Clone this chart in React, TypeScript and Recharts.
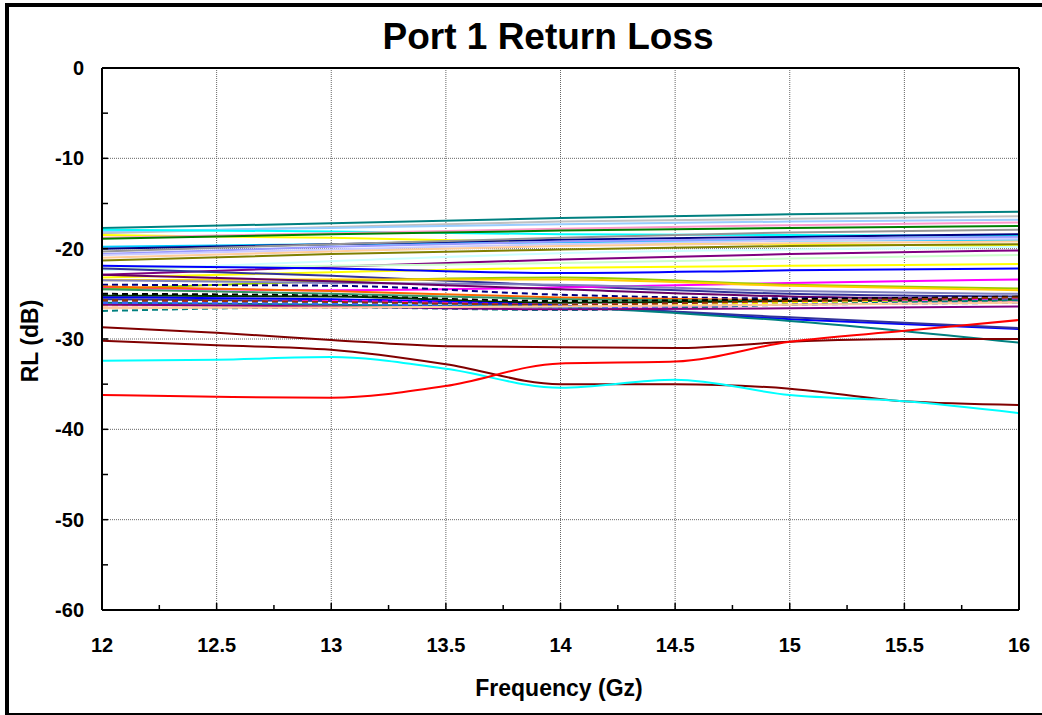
import { CartesianGrid, Line, LineChart, ReferenceLine, XAxis, YAxis } from "recharts"

const FONT = "'Liberation Sans', Arial, sans-serif"

// frequency points (GHz); the dense group was read at whole GHz only
const FREQ = [12, 12.5, 13, 13.5, 14, 14.5, 15, 15.5, 16]
const X_TICKS = [12, 12.25, 12.5, 12.75, 13, 13.25, 13.5, 13.75, 14, 14.25, 14.5, 14.75, 15, 15.25, 15.5, 15.75, 16]
const Y_TICKS = [0, -5, -10, -15, -20, -25, -30, -35, -40, -45, -50, -55, -60]
const GRID_X = [12.5, 13, 13.5, 14, 14.5, 15, 15.5]
const GRID_Y = [-10, -20, -30, -40, -50]

// dense group, values at 12, 13, 14, 15, 16 GHz
const teal1 = [-17.7, -17.2, -16.6, -16.2, -15.9]
const silver1 = [-18.3, -17.6, -17.0, -16.7, -16.4]
const paleBlue1 = [-18.1, -17.7, -17.3, -17.0, -16.8]
const cyan1 = [-17.9, -18.1, -18.4, -18.5, -18.6]
const yellow1 = [-18.5, -18.8, -19.3, -19.5, -19.7]
const rose1 = [-18.8, -18.3, -17.8, -17.4, -17.1]
const green1 = [-18.9, -18.4, -18.0, -17.7, -17.5]
const skyBlue1 = [-19.8, -19.5, -19.3, -19.1, -19.0]
const navy1 = [-20.0, -19.5, -19.0, -18.7, -18.4]
const gray1 = [-20.3, -19.5, -18.8, -18.2, -17.9]
const periwinkle1 = [-20.6, -19.8, -19.2, -18.9, -18.7]
const lavender1 = [-20.7, -20.1, -19.5, -19.1, -18.9]
const tan1 = [-21.0, -20.3, -19.7, -19.4, -19.2]
const olive1 = [-21.3, -20.6, -20.1, -19.7, -19.5]
const turquoise1 = [-22.4, -21.4, -20.5, -20.1, -19.8]
const purple1 = [-22.9, -22.0, -21.2, -20.6, -20.2]
const lightGreen1 = [-22.2, -21.9, -21.6, -21.1, -20.7]
const yellow2 = [-23.2, -22.6, -22.1, -21.9, -21.7]
const blue1 = [-21.9, -22.2, -22.7, -22.4, -22.2]
const indigo1 = [-22.2, -23.0, -24.1, -25.0, -25.3]
const magenta1 = [-24.3, -24.6, -24.3, -23.8, -23.4]
const lime1 = [-24.5, -23.6, -23.2, -24.0, -24.4]
const gold1 = [-23.5, -23.4, -23.4, -24.1, -24.6]
const blueGray1 = [-23.5, -23.8, -24.0, -24.7, -25.0]
const plum1 = [-22.9, -23.6, -24.5, -25.3, -25.6]
const navyDash = [-24.0, -24.1, -25.1, -25.5, -25.4]
const orange1 = [-24.2, -24.7, -25.4, -25.7, -25.8]
const seaGreen1 = [-24.5, -25.0, -25.6, -25.8, -25.7]
const blackDash = [-25.0, -25.2, -25.8, -25.6, -25.3]
const darkGreen1 = [-25.2, -25.3, -26.0, -25.8, -25.6]
const blue2 = [-25.4, -25.6, -26.3, -27.8, -28.9]
const indigo2 = [-25.6, -25.8, -26.4, -27.6, -28.8]
const plumDash = [-25.8, -25.9, -26.4, -26.0, -25.6]
const skyBlueDash = [-26.0, -25.9, -26.3, -25.9, -25.5]
const magentaDash = [-26.1, -25.8, -26.2, -25.9, -25.6]
const yellowDash = [-26.3, -26.3, -26.4, -26.0, -25.8]
const rose2 = [-26.5, -26.5, -26.6, -26.2, -25.9]
const tealDash = [-26.9, -26.5, -26.8, -26.2, -25.7]
const teal2 = [-26.0, -26.2, -26.5, -28.0, -30.4]
const purple2 = [-26.2, -26.4, -26.7, -26.6, -26.4]
const blueDash = [-26.0, -26.1, -26.5, -26.2, -26.0]
const brownDash = [-25.7, -25.9, -26.2, -25.8, -25.4]
const tan2 = [-26.6, -26.5, -26.4, -26.2, -26.0]

// separated curves, values at every 0.5 GHz
const darkRedA = [-28.7, -29.3, -30.1, -30.8, -30.9, -31.0, -30.3, -30.0, -30.0]
const darkRedB = [-30.2, -30.7, -31.2, -32.8, -35.0, -35.0, -35.5, -36.9, -37.3]
const cyanLow = [-32.4, -32.3, -32.0, -33.3, -35.4, -34.5, -36.2, -36.9, -38.2]
const redLow = [-36.2, -36.4, -36.5, -35.2, -32.7, -32.5, -30.3, -29.1, -27.9]

interface Series {
  key: string
  color: string
  values: number[]
  dashed?: boolean
}

const WHOLE_GHZ: Series[] = [
  { key: "teal1", color: "#008080", values: teal1 },
  { key: "silver1", color: "#c0c0c0", values: silver1 },
  { key: "paleBlue1", color: "#99ccff", values: paleBlue1 },
  { key: "cyan1", color: "#00ffff", values: cyan1 },
  { key: "yellow1", color: "#ffff00", values: yellow1 },
  { key: "rose1", color: "#ff99cc", values: rose1 },
  { key: "green1", color: "#008000", values: green1 },
  { key: "skyBlue1", color: "#00ccff", values: skyBlue1 },
  { key: "navy1", color: "#000080", values: navy1 },
  { key: "gray1", color: "#969696", values: gray1 },
  { key: "periwinkle1", color: "#9999ff", values: periwinkle1 },
  { key: "lavender1", color: "#ccccff", values: lavender1 },
  { key: "tan1", color: "#ffcc99", values: tan1 },
  { key: "olive1", color: "#808000", values: olive1 },
  { key: "turquoise1", color: "#ccffff", values: turquoise1 },
  { key: "purple1", color: "#800080", values: purple1 },
  { key: "lightGreen1", color: "#ccffcc", values: lightGreen1 },
  { key: "yellow2", color: "#ffff00", values: yellow2 },
  { key: "blue1", color: "#0000ff", values: blue1 },
  { key: "indigo1", color: "#333399", values: indigo1 },
  { key: "magenta1", color: "#ff00ff", values: magenta1 },
  { key: "lime1", color: "#99cc00", values: lime1 },
  { key: "gold1", color: "#ffcc00", values: gold1 },
  { key: "blueGray1", color: "#8080c0", values: blueGray1 },
  { key: "plum1", color: "#660066", values: plum1 },
  { key: "navyDash", color: "#000080", values: navyDash, dashed: true },
  { key: "orange1", color: "#ff6600", values: orange1 },
  { key: "seaGreen1", color: "#339966", values: seaGreen1 },
  { key: "blackDash", color: "#000000", values: blackDash, dashed: true },
  { key: "darkGreen1", color: "#003300", values: darkGreen1 },
  { key: "blue2", color: "#0000ff", values: blue2 },
  { key: "indigo2", color: "#333399", values: indigo2 },
  { key: "plumDash", color: "#993366", values: plumDash, dashed: true },
  { key: "skyBlueDash", color: "#00ccff", values: skyBlueDash, dashed: true },
  { key: "magentaDash", color: "#ff00ff", values: magentaDash, dashed: true },
  { key: "yellowDash", color: "#ffff00", values: yellowDash, dashed: true },
  { key: "rose2", color: "#ff99cc", values: rose2 },
  { key: "tealDash", color: "#008080", values: tealDash, dashed: true },
  { key: "teal2", color: "#008080", values: teal2 },
  { key: "purple2", color: "#800080", values: purple2 },
  { key: "blueDash", color: "#3366ff", values: blueDash, dashed: true },
  { key: "brownDash", color: "#993300", values: brownDash, dashed: true },
  { key: "tan2", color: "#ffcc99", values: tan2 },
]

const HALF_GHZ: Series[] = [
  { key: "darkRedA", color: "#800000", values: darkRedA },
  { key: "darkRedB", color: "#800000", values: darkRedB },
  { key: "cyanLow", color: "#00ffff", values: cyanLow },
  { key: "redLow", color: "#ff0000", values: redLow },
]

const rows = FREQ.map((f, i) => {
  const row: Record<string, number | null> = { f }
  WHOLE_GHZ.forEach((s) => {
    row[s.key] = i % 2 === 0 ? s.values[i / 2] : null
  })
  HALF_GHZ.forEach((s) => {
    row[s.key] = s.values[i]
  })
  return row
})

const tickText = { fontFamily: FONT, fontWeight: 700, fontSize: 20, fill: "#000" }

function BottomTick({ x, y, payload }: any) {
  const v = Number(payload.value)
  const major = Number.isInteger(v * 2)
  return (
    <g>
      <line x1={x} x2={x} y1={y} y2={y - (major ? 7 : 5)} stroke="#000" strokeWidth={1.5} />
      {major && (
        <text x={x} y={y + 42} textAnchor="middle" {...tickText}>
          {v}
        </text>
      )}
    </g>
  )
}

function LeftTick({ x, y, payload }: any) {
  const v = Number(payload.value)
  const major = v % 10 === 0
  return (
    <g>
      <line x1={x} x2={x + 6} y1={y} y2={y} stroke="#000" strokeWidth={1.5} />
      {major && (
        <text x={x - 18} y={y} dy="0.35em" textAnchor="end" {...tickText}>
          {v}
        </text>
      )}
    </g>
  )
}

function RightTick({ x, y }: any) {
  return <line x1={x} x2={x - 6} y1={y} y2={y} stroke="#000" strokeWidth={1.5} />
}

export default function App() {
  return (
    <div
      style={{
        position: "absolute",
        left: 0,
        top: 0,
        width: 1042,
        height: 715,
        overflow: "hidden",
        background: "#fff",
        fontFamily: FONT,
      }}
    >
      <div
        style={{
          position: "absolute",
          left: 5,
          top: 3,
          width: 1080,
          height: 714,
          borderLeft: "4px solid #000",
          borderTop: "4px solid #000",
          borderBottom: "4px solid #000",
          boxSizing: "border-box",
        }}
      />
      <div
        style={{
          position: "absolute",
          left: 0,
          top: 18,
          width: 1096,
          textAlign: "center",
          fontSize: 37,
          lineHeight: "37px",
          fontWeight: 700,
        }}
      >
        Port 1 Return Loss
      </div>
      <div
        style={{
          position: "absolute",
          left: 0,
          top: 677,
          width: 1118,
          textAlign: "center",
          fontSize: 23,
          lineHeight: "23px",
          fontWeight: 700,
        }}
      >
        Frequency (Gz)
      </div>
      <div
        style={{
          position: "absolute",
          left: 30,
          top: 341,
          transform: "translate(-50%, -50%) rotate(-90deg)",
          whiteSpace: "nowrap",
          fontSize: 23,
          lineHeight: "23px",
          fontWeight: 700,
        }}
      >
        RL (dB)
      </div>
      <div style={{ position: "absolute", left: 0, top: 0 }}>
        <LineChart width={1042} height={715} data={rows} margin={{ top: 68, right: 13, bottom: 65, left: 42 }}>
          <CartesianGrid
            yAxisId="left"
            stroke="#666"
            strokeDasharray="1 1"
            horizontalValues={GRID_Y}
            verticalValues={GRID_X}
          />
          <XAxis
            dataKey="f"
            type="number"
            domain={[12, 16]}
            ticks={X_TICKS}
            interval={0}
            height={40}
            tickSize={0}
            tickMargin={0}
            tickLine={false}
            tick={<BottomTick />}
            axisLine={{ stroke: "#000", strokeWidth: 2 }}
          />
          <YAxis
            yAxisId="left"
            type="number"
            domain={[-60, 0]}
            ticks={Y_TICKS}
            interval={0}
            width={60}
            tickSize={0}
            tickMargin={0}
            tickLine={false}
            tick={<LeftTick />}
            axisLine={{ stroke: "#000", strokeWidth: 2 }}
            allowDataOverflow
          />
          <YAxis
            yAxisId="right"
            orientation="right"
            type="number"
            domain={[-60, 0]}
            ticks={Y_TICKS}
            interval={0}
            width={10}
            tickSize={0}
            tickMargin={0}
            tickLine={false}
            tick={<RightTick />}
            axisLine={{ stroke: "#000", strokeWidth: 2 }}
          />
          <ReferenceLine yAxisId="left" y={0} stroke="#000" strokeWidth={2} />
          {[...WHOLE_GHZ, ...HALF_GHZ].map((s) => (
            <Line
              key={s.key}
              yAxisId="left"
              type="monotone"
              dataKey={s.key}
              stroke={s.color}
              strokeWidth={2}
              strokeDasharray={s.dashed ? "6 4" : undefined}
              dot={false}
              activeDot={false}
              connectNulls
              isAnimationActive={false}
            />
          ))}
        </LineChart>
      </div>
    </div>
  )
}
